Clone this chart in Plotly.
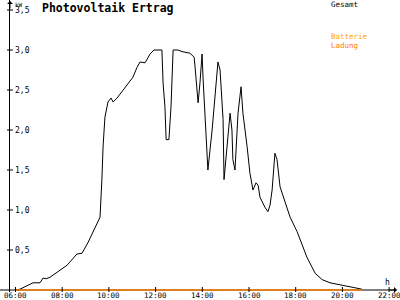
import plotly.graph_objects as go

# ---- data (hours of day, kW) ----
hours = [6.00, 6.19, 6.75, 7.05, 7.18, 7.31, 7.48, 7.82, 8.21, 8.63, 8.85, 9.10, 9.32,
         9.62, 9.70, 9.75, 9.83, 9.96, 10.09, 10.18, 10.35, 10.60, 11.03, 11.20, 11.33,
         11.55, 11.76, 11.93, 12.27, 12.32, 12.40, 12.45, 12.57, 12.66, 12.75, 12.96,
         13.13, 13.47, 13.65, 13.69, 13.77, 13.82, 13.90, 13.99, 14.03, 14.12, 14.20,
         14.24, 14.42, 14.54, 14.67, 14.76, 14.89, 14.93, 15.06, 15.19, 15.27, 15.31,
         15.40, 15.53, 15.66, 15.74, 15.92, 16.04, 16.17, 16.30, 16.39, 16.47, 16.69,
         16.81, 16.90, 16.99, 17.11, 17.20, 17.33, 17.54, 17.76, 18.06, 18.48, 18.83,
         19.13, 19.47, 20.20, 20.84]
gesamt_kw = [0.00, 0.01, 0.09, 0.09, 0.15, 0.14, 0.16, 0.23, 0.31, 0.45, 0.46, 0.59, 0.73,
             0.91, 1.38, 1.79, 2.16, 2.35, 2.40, 2.35, 2.40, 2.50, 2.66, 2.78, 2.85,
             2.84, 2.95, 3.00, 3.00, 2.59, 2.29, 1.88, 1.88, 2.29, 3.00, 3.00,
             2.98, 2.96, 2.91, 2.79, 2.50, 2.34, 2.59, 2.95, 2.66, 2.13, 1.75,
             1.50, 2.00, 2.38, 2.85, 2.75, 2.13, 1.38, 1.79, 2.21, 2.00, 1.63,
             1.50, 2.21, 2.54, 2.21, 1.79, 1.46, 1.25, 1.34, 1.31, 1.16, 1.03,
             0.98, 1.06, 1.25, 1.71, 1.63, 1.29, 1.09, 0.91, 0.73, 0.41, 0.21,
             0.13, 0.09, 0.05, 0.01]
ladung_hours = [6.00, 20.84]
ladung_kw = [0.0, 0.0]

x_tickvals = [6, 8, 10, 12, 14, 16, 18, 20, 22]
x_ticktext = ["06:00", "08:00", "10:00", "12:00", "14:00", "16:00", "18:00", "20:00", "22:00"]
y_tickvals = [0.5, 1.0, 1.5, 2.0, 2.5, 3.0, 3.5]
y_ticktext = ["0,5", "1,0", "1,5", "2,0", "2,5", "3,0", "3,5"]

title = "Photovoltaik Ertrag"
legend_items = [("Gesamt", "#000000"), ("Batterie", "#FFA500"), ("Ladung", "#FF8000")]

# ---- layout geometry ----
W, H = 400, 300
ML, MB = 10, 8
PX_PER_H = 23.35
X0_PX = 15.5           # pixel of 06:00
PX_PER_KW = 80.0
Y0_PX = 290            # pixel of 0 kW
plot_h = H - MB
x_range = [6 + (ML - X0_PX) / PX_PER_H, 6 + (W - X0_PX) / PX_PER_H]
y_range = [-(plot_h - Y0_PX) / PX_PER_KW, Y0_PX / PX_PER_KW]

MONO = "DejaVu Sans Mono"

fig = go.Figure()
fig.add_trace(go.Scatter(x=hours, y=gesamt_kw, mode="lines",
                         line=dict(color="#000000", width=1), hoverinfo="skip"))
fig.add_trace(go.Scatter(x=ladung_hours, y=ladung_kw, mode="lines",
                         line=dict(color="#FF8000", width=1.3), hoverinfo="skip"))

shapes = []
# x axis line (extends slightly left of y axis)
shapes.append(dict(type="line", xref="paper", yref="y", xsizemode="pixel", xanchor=0,
                   x0=-ML, x1=W - ML - 6, y0=0, y1=0,
                   line=dict(color="black", width=1), layer="below"))
# x ticks
for v in x_tickvals:
    shapes.append(dict(type="line", xref="x", yref="y", ysizemode="pixel", yanchor=0,
                       x0=v, x1=v, y0=-3, y1=3, line=dict(color="black", width=1)))
# y ticks
for v in y_tickvals:
    shapes.append(dict(type="line", xref="paper", yref="y", xsizemode="pixel", xanchor=0,
                       x0=-3, x1=3, y0=v, y1=v, line=dict(color="black", width=1)))

ann = []
for v, t in zip(x_tickvals, x_ticktext):
    ann.append(dict(x=v, y=0, xref="x", yref="y", text=t, showarrow=False,
                    xanchor="center", yanchor="top", yshift=0, borderpad=0,
                    font=dict(family=MONO, size=7.5, color="black")))
for v, t in zip(y_tickvals, y_ticktext):
    ann.append(dict(x=0, y=v, xref="paper", yref="y", text=t, showarrow=False,
                    xanchor="left", yanchor="middle", xshift=4, borderpad=0,
                    font=dict(family=MONO, size=8, color="black")))
# unit labels
ann.append(dict(x=0, y=1, xref="paper", yref="paper", text="kW", showarrow=False,
                xanchor="left", yanchor="top", xshift=4, yshift=0, borderpad=0,
                font=dict(family=MONO, size=6, color="black")))
ann.append(dict(x=1, y=0, xref="paper", yref="y", text="h", showarrow=False,
                xanchor="right", yanchor="bottom", xshift=-9, yshift=2, borderpad=0,
                font=dict(family=MONO, size=8, color="black")))
# axis arrows
ann.append(dict(x=1, y=0, xref="paper", yref="y", ax=-10, ay=0, text="", showarrow=True,
                xshift=-2, arrowhead=1, arrowsize=1, arrowwidth=1, arrowcolor="black"))
ann.append(dict(x=0, y=1, xref="paper", yref="paper", ax=0, ay=10, text="", showarrow=True,
                arrowhead=1, arrowsize=1, arrowwidth=1, arrowcolor="black"))
# title
ann.append(dict(x=(40 - ML) / (W - ML), y=1, xref="paper", yref="paper", text="<b>" + title + "</b>",
                showarrow=False, xanchor="left", yanchor="top", yshift=1,
                font=dict(family=MONO, size=11.5, color="black")))
# legend texts
leg_y = [5, 36, 45]
for (t, c), py in zip(legend_items, leg_y):
    ann.append(dict(x=(330 - ML) / (W - ML), y=1 - py / plot_h, xref="paper", yref="paper",
                    text=t, showarrow=False, xanchor="left", yanchor="middle", borderpad=0,
                    font=dict(family=MONO, size=7.5, color=c)))

fig.update_layout(
    width=W, height=H,
    margin=dict(l=ML, r=0, t=0, b=MB, pad=0),
    paper_bgcolor="white", plot_bgcolor="white",
    showlegend=False,
    shapes=shapes, annotations=ann,
    xaxis=dict(range=x_range, showgrid=False, zeroline=False, showline=False,
               showticklabels=False, ticks="", fixedrange=True),
    yaxis=dict(range=y_range, showgrid=False, zeroline=False, showline=True,
               linecolor="black", linewidth=1, showticklabels=False, ticks="",
               fixedrange=True),
)

fig.write_html("out.html", config={"displayModeBar": False})
